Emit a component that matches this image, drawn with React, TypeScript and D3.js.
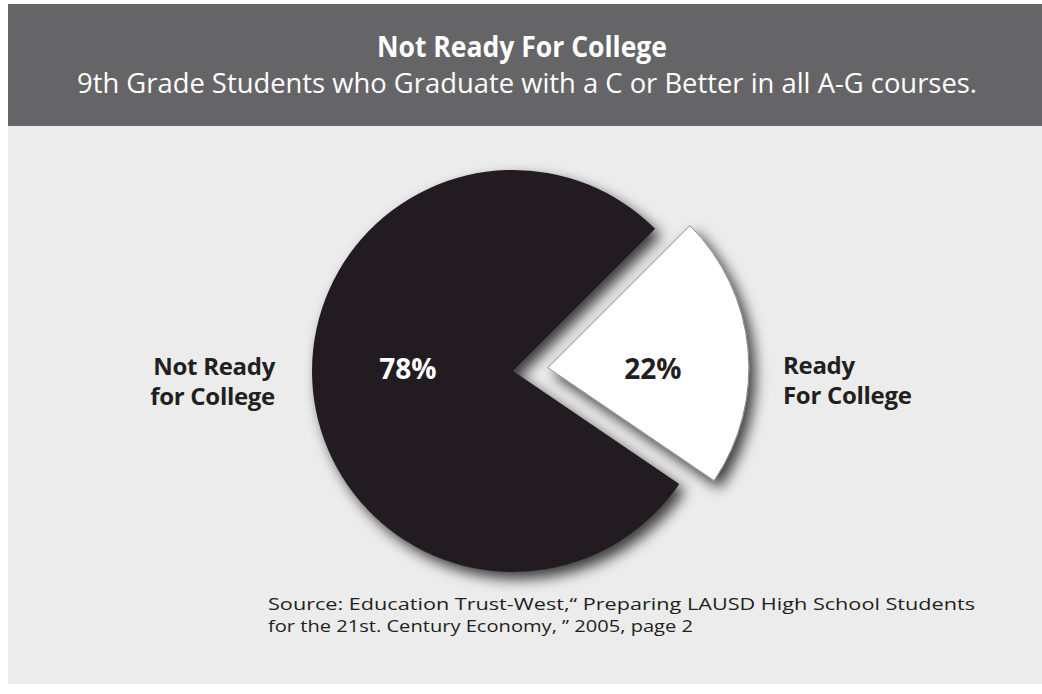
import * as d3 from 'd3';

// chart data
const categories = ['Ready For College', 'Not Ready for College'];
const values = [22, 78];
const sliceLabels = ['22%', '78%'];
const sideLabels = [
  ['Ready', 'For College'],
  ['Not Ready', 'for College'],
];
const titleText = 'Not Ready For College';
const subtitleText = '9th Grade Students who Graduate with a C or Better in all A-G courses.';
const sourceLines = [
  'Source:  Education Trust-West,\u201C Preparing LAUSD High School Students',
  'for the 21st. Century Economy, \u201D 2005, page 2',
];
const sourceWidths = [707, 425];

const W = 1042;
const H = 694;
const font = "'Open Sans', 'Noto Sans', sans-serif";
const ink = '#231f20';

const App = () => {
  const cx = 513;
  const cy = 371;
  const r = 201;
  const explode = 35;

  const pie = d3
    .pie<number>()
    .sort(null)
    .startAngle(Math.PI / 4)
    .endAngle(Math.PI / 4 + Math.PI * 2);
  const arcs = pie(values);

  const arc = d3.arc<d3.PieArcDatum<number>>().innerRadius(0).outerRadius(r);
  const labelArc = d3.arc<d3.PieArcDatum<number>>().innerRadius(0).outerRadius(r * 1.05);

  const fills = ['#ffffff', ink];
  const textFills = [ink, '#ffffff'];

  return (
    <svg
      width={W}
      height={H}
      style={{ position: 'absolute', left: 0, top: 0, background: '#fff' }}
    >
      <defs>
        <filter id="shadow" x="-30%" y="-30%" width="160%" height="160%">
          <feDropShadow dx="6" dy="7" stdDeviation="7" floodColor="#000" floodOpacity="0.75" />
        </filter>
      </defs>

      {/* panels */}
      <rect x={8} y={4} width={W - 8} height={122} fill="#656567" />
      <rect x={8} y={126} width={W - 8} height={H - 126 - 10} fill="#ebeceb" />

      {/* header */}
      <text
        x={W / 2 + 1}
        y={57}
        textAnchor="middle"
        fontFamily={font}
        fontWeight="bold"
        fontSize={28}
        fill="#fff"
        textLength={290}
        lengthAdjust="spacingAndGlyphs"
      >
        {titleText}
      </text>
      <text
        x={W / 2 + 6}
        y={93}
        textAnchor="middle"
        fontFamily={font}
        fontSize={28}
        fill="#fff"
        textLength={900}
        lengthAdjust="spacingAndGlyphs"
      >
        {subtitleText}
      </text>

      {/* pie */}
      <g transform={`translate(${cx},${cy})`}>
        {arcs
          .map((a, i) => ({ a, i }))
          .reverse()
          .map(({ a, i }) => {
            const mid = (a.startAngle + a.endAngle) / 2;
            const off = i === 0 ? explode : 0;
            const dx = off * Math.sin(mid);
            const dy = -off * Math.cos(mid);
            const [lx] = labelArc.centroid(a);
            return (
              <g key={categories[i]} transform={`translate(${dx},${dy})`}>
                <path
                  d={arc(a) ?? ''}
                  fill={fills[i]}
                  stroke={i === 0 ? '#8a8a8a' : 'none'}
                  strokeWidth={1}
                  filter="url(#shadow)"
                />
                <text
                  x={lx}
                  y={8 - dy}
                  textAnchor="middle"
                  fontFamily={font}
                  fontWeight="bold"
                  fontSize={28}
                  fill={textFills[i]}
                >
                  {sliceLabels[i]}
                </text>
              </g>
            );
          })}
      </g>

      {/* side labels */}
      {sideLabels.map((lines, i) => {
        const right = i === 0;
        const x = right ? cx + explode + r + 34 : cx - r - 37;
        return (
          <text
            key={lines.join()}
            x={x}
            y={right ? 374 : 375}
            textAnchor={right ? 'start' : 'end'}
            fontFamily={font}
            fontWeight="bold"
            fontSize={24}
            fill={ink}
            letterSpacing={-0.3}
          >
            {lines.map((l, j) => (
              <tspan key={l} x={x} dy={j === 0 ? 0 : 30}>
                {l}
              </tspan>
            ))}
          </text>
        );
      })}

      {/* source */}
      {sourceLines.map((l, j) => (
        <text
          key={l}
          x={268}
          y={610 + j * 22}
          fontFamily={font}
          fontSize={17}
          fill={ink}
          textLength={sourceWidths[j]}
          lengthAdjust="spacingAndGlyphs"
        >
          {l}
        </text>
      ))}
    </svg>
  );
};

export default App;
